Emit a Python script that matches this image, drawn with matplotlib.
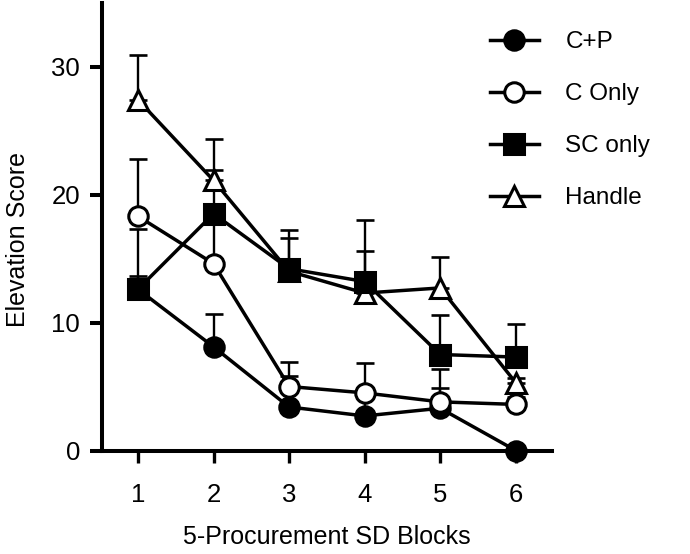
import matplotlib.pyplot as plt
import numpy as np

plt.rcParams['font.family'] = ['Liberation Sans', 'DejaVu Sans']

# blocks on the x axis
blocks = [1, 2, 3, 4, 5, 6]

# mean elevation score per group, upper SD only
cp_mean = [12.6, 8.1, 3.4, 2.7, 3.3, 0.0]
cp_err = [4.7, 2.6, 2.4, 1.5, 1.6, 0.0]

conly_mean = [18.3, 14.6, 5.0, 4.5, 3.8, 3.6]
conly_err = [4.5, 3.5, 1.9, 2.3, 2.6, 0.6]

sc_mean = [12.6, 18.5, 14.2, 13.2, 7.5, 7.3]
sc_err = [1.0, 3.4, 3.0, 4.8, 3.1, 2.6]

handle_mean = [27.4, 21.1, 14.0, 12.3, 12.7, 5.3]
handle_err = [3.5, 3.2, 2.6, 3.3, 2.4, 0.4]

labels = ['C+P', 'C Only', 'SC only', 'Handle']
yticks = [0, 10, 20, 30]

fig = plt.figure(figsize=(6.9, 5.54), dpi=100)
ax = fig.add_axes([101.7 / 690, 1 - 450.5 / 554, (552 - 101.7) / 690, 448 / 554])

series = [
    (cp_mean, cp_err, 'o', 'black'),
    (conly_mean, conly_err, 'o', 'white'),
    (handle_mean, handle_err, '^', 'white'),
    (sc_mean, sc_err, 's', 'black'),
]
lab_for = {0: labels[0], 1: labels[1], 2: labels[3], 3: labels[2]}

# error bars first (upper only), behind everything
for m, e, mk, fc in series:
    ax.errorbar(blocks, m, yerr=[np.zeros(len(e)), e], fmt='none',
                ecolor='black', elinewidth=1.7, capsize=6.8, capthick=1.9,
                zorder=1)

lines = {}
for i, (m, e, mk, fc) in enumerate(series):
    ms = 14 if mk != '^' else 14.5
    ln, = ax.plot(blocks, m, color='black', lw=2.5, marker=mk, ms=ms,
                  mfc=fc, mec='black', mew=2.2, zorder=3 + i,
                  clip_on=False, label=lab_for[i])
    lines[lab_for[i]] = ln

ax.set_xlim(0.52, 6.48)
ax.set_ylim(0, 35)
ax.set_xticks(blocks)
ax.set_yticks(yticks)

for s in ['top', 'right']:
    ax.spines[s].set_visible(False)
for s in ['left', 'bottom']:
    ax.spines[s].set_linewidth(2.9)
ax.spines['left'].set_zorder(10)

ax.tick_params(axis='y', direction='out', length=8.6, width=2.9,
               labelsize=18.5, pad=7)
ax.tick_params(axis='x', direction='out', length=8.6, width=2.4,
               labelsize=18.5, pad=15)

ax.set_ylabel('Elevation Score', fontsize=18)
ax.yaxis.set_label_coords(-0.159, 0.47)
ax.set_xlabel('5-Procurement SD Blocks', fontsize=18)
ax.xaxis.set_label_coords(0.5, -0.166)

leg = ax.legend([lines[l] for l in labels], labels, loc='upper left',
                bbox_to_anchor=(490 / 690, 1 - 31 / 554),
                bbox_transform=fig.transFigure, frameon=False,
                fontsize=17.5, handlelength=2.0, handletextpad=1.1,
                labelspacing=1.24, borderpad=0, borderaxespad=0)

fig.savefig('out.png', dpi=100)
